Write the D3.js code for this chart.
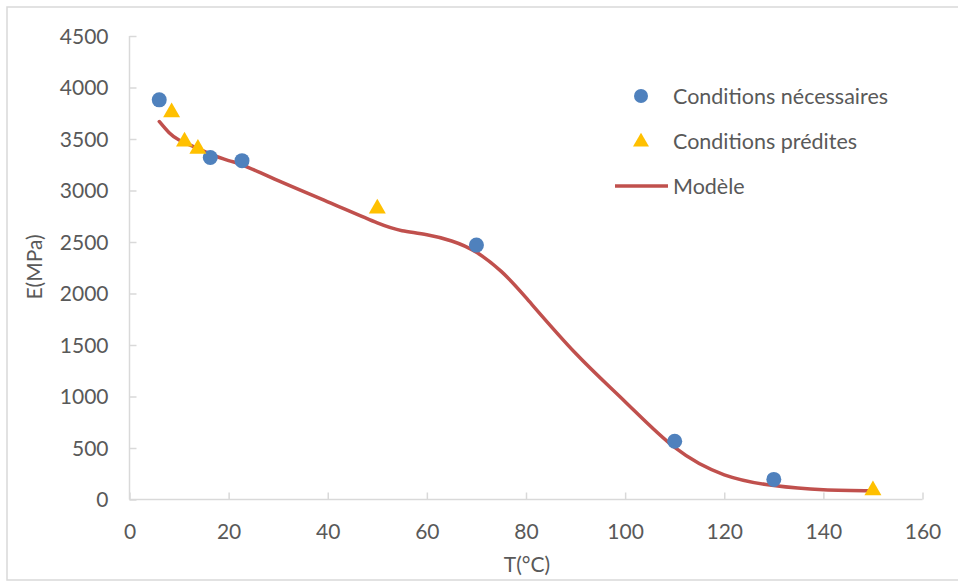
<!DOCTYPE html>
<html>
<head>
<meta charset="utf-8">
<script src="https://cdn.jsdelivr.net/npm/d3@7"></script>
<style>
  html, body { margin: 0; padding: 0; background: #fff; }
  svg { display: block; }
  text { font-family: Lato, "Open Sans", sans-serif; fill: #595959; }
</style>
</head>
<body>
<svg id="chart" width="958" height="581"></svg>
<script>
// ---- Data ----
const necessairesT = [6, 16.3, 22.7, 70, 110, 130];
const necessairesE = [3880, 3320, 3290, 2470, 565, 195];

const preditesT = [8.5, 11.1, 13.8, 50, 150];
const preditesE = [3760, 3475, 3405, 2825, 90];

const modeleT = [6, 8, 10, 13, 16, 20, 23, 30, 40, 50, 55, 60, 65, 70, 75, 80, 90, 100, 110, 120, 130, 140, 150];
const modeleE = [3670, 3560, 3490, 3425, 3360, 3290, 3245, 3095, 2890, 2685, 2610, 2570, 2510, 2400, 2215, 1960, 1420, 950, 505, 240, 135, 95, 85];

const xTicks = [0, 20, 40, 60, 80, 100, 120, 140, 160];
const yTicks = [0, 500, 1000, 1500, 2000, 2500, 3000, 3500, 4000, 4500];

const legendLabels = ["Conditions nécessaires", "Conditions prédites", "Modèle"];
const xTitle = "T(°C)";
const yTitle = "E(MPa)";

// ---- Drawing ----
const svg = d3.select("#chart");
const colBlue = "#4f81bd", colGold = "#ffc000", colRed = "#c0504d", axisCol = "#d9d9d9";
const fs = "21px";

// outer frame
svg.append("rect").attr("x", 7).attr("y", 7).attr("width", 1000).attr("height", 573)
  .attr("fill", "none").attr("stroke", "#d9d9d9").attr("stroke-width", 1.5);

const x = d3.scaleLinear().domain([0, 160]).range([129.5, 922.5]);
const y = d3.scaleLinear().domain([0, 4500]).range([499.5, 36]);

// axes with inward ticks
const xAxis = d3.axisBottom(x).tickValues(xTicks).tickSize(-7).tickPadding(0).tickFormat(d3.format("d"));
const gx = svg.append("g").attr("transform", `translate(0,${y(0)})`).call(xAxis);
gx.select(".domain").attr("stroke", axisCol).attr("stroke-width", 1.5).attr("d", `M${x(0)},0H${x(160)}`);
gx.selectAll(".tick line").attr("stroke", axisCol).attr("stroke-width", 1.5);
gx.selectAll(".tick text").attr("y", 39).attr("dy", 0).style("font-size", fs).attr("fill", "#595959")
  .style("font-family", "Lato, sans-serif");

const yAxis = d3.axisLeft(y).tickValues(yTicks).tickSize(-7).tickPadding(0).tickFormat(d3.format("d"));
const gy = svg.append("g").attr("transform", `translate(${x(0)},0)`).call(yAxis);
gy.select(".domain").attr("stroke", axisCol).attr("stroke-width", 1.5).attr("d", `M0,${y(0)}V${y(4500)}`);
gy.selectAll(".tick line").attr("stroke", axisCol).attr("stroke-width", 1.5);
gy.selectAll(".tick text").attr("x", -21).attr("dy", "0.35em").style("font-size", fs).attr("fill", "#595959")
  .style("font-family", "Lato, sans-serif");

// axis titles
svg.append("text").attr("x", 527).attr("y", 572).attr("text-anchor", "middle")
  .style("font-size", fs).text(xTitle);
svg.append("text").attr("transform", "translate(42,267) rotate(-90)").attr("text-anchor", "middle")
  .style("font-size", fs).text(yTitle);

// model line
const modelData = modeleT.map((t, i) => [t, modeleE[i]]);
const line = d3.line().x(d => x(d[0])).y(d => y(d[1])).curve(d3.curveNatural);
svg.append("path").datum(modelData).attr("d", line)
  .attr("fill", "none").attr("stroke", colRed).attr("stroke-width", 3.5).attr("stroke-linecap", "round");

// circles
svg.append("g").selectAll("circle").data(necessairesT.map((t, i) => [t, necessairesE[i]]))
  .join("circle").attr("cx", d => x(d[0])).attr("cy", d => y(d[1])).attr("r", 7.5).attr("fill", colBlue);

// triangles
const tri = d3.symbol().type(d3.symbolTriangle).size(125);
svg.append("g").selectAll("path").data(preditesT.map((t, i) => [t, preditesE[i]]))
  .join("path").attr("d", tri).attr("transform", d => `translate(${x(d[0])},${y(d[1])})`).attr("fill", colGold);

// legend
const lg = svg.append("g");
lg.append("circle").attr("cx", 641).attr("cy", 96).attr("r", 7).attr("fill", colBlue);
lg.append("path").attr("d", d3.symbol().type(d3.symbolTriangle).size(110)).attr("transform", "translate(641,142)").attr("fill", colGold);
lg.append("line").attr("x1", 615).attr("x2", 668).attr("y1", 186).attr("y2", 186).attr("stroke", colRed).attr("stroke-width", 3.5);
[96, 141, 186].forEach((yy, i) => {
  lg.append("text").attr("x", 673).attr("y", yy).attr("dy", "0.35em").style("font-size", "21.5px").text(legendLabels[i]);
});
</script>
</body>
</html>
